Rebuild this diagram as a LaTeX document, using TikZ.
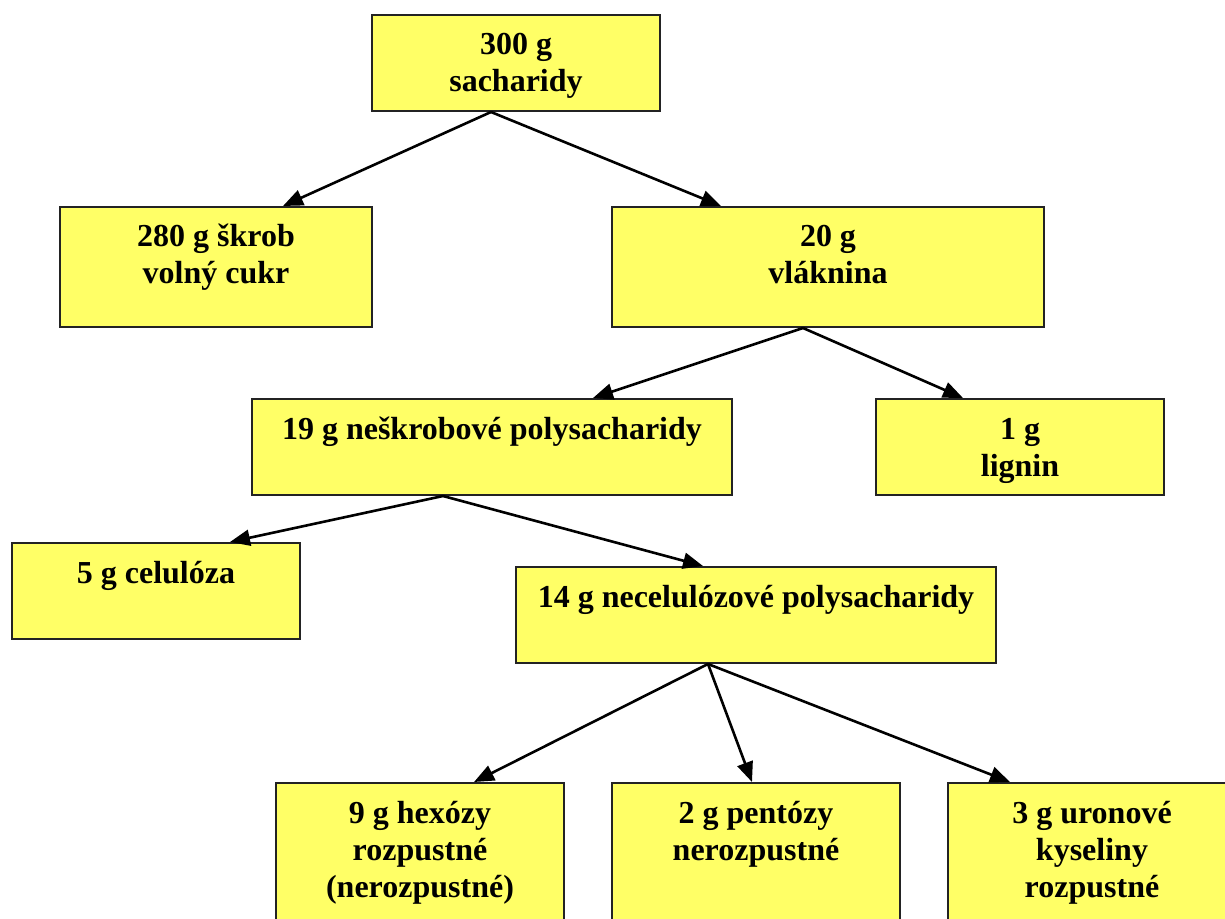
\documentclass[tikz,border=0pt]{standalone}
\usepackage{fontspec}
\setmainfont{Liberation Serif}
\usetikzlibrary{calc,arrows.meta}
\definecolor{boxyellow}{RGB}{255,255,102}
\definecolor{boxline}{RGB}{35,35,35}
\newcommand{\boxtxt}[3]{\parbox[t][#2][t]{#1}{\centering\rule{0pt}{20pt}#3}}

\begin{document}
\begin{tikzpicture}[x=0.5pt, y=-0.5pt,
    cellbox/.style={draw=boxline, line width=1pt, fill=boxyellow, inner sep=0pt,
      anchor=north west, font=\fontsize{16}{18.5}\selectfont\bfseries},
    link/.style={-{Triangle[length=10pt,width=8pt]}, line width=1.3pt}]
    \clip (0,0) rectangle (1225,919);
    \node[cellbox] (sach) at (371,14) {\boxtxt{144pt}{48pt}{300 g\\sacharidy}};
    \node[cellbox] (skrob) at (59,206) {\boxtxt{156pt}{60pt}{280 g škrob\\volný cukr}};
    \node[cellbox] (vlak) at (611,206) {\boxtxt{216pt}{60pt}{20 g\\vláknina}};
    \node[cellbox] (nsp) at (251,398) {\boxtxt{240pt}{48pt}{19 g neškrobové polysacharidy}};
    \node[cellbox] (lign) at (875,398) {\boxtxt{144pt}{48pt}{1 g\\lignin}};
    \node[cellbox] (cel) at (11,542) {\boxtxt{144pt}{48pt}{5 g celulóza}};
    \node[cellbox] (ncp) at (515,566) {\boxtxt{240pt}{48pt}{14 g necelulózové polysacharidy}};
    \node[cellbox] (hex) at (275,782) {\boxtxt{144pt}{80pt}{9 g hexózy\\rozpustné\\(nerozpustné)}};
    \node[cellbox] (pent) at (611,782) {\boxtxt{144pt}{80pt}{2 g pentózy\\nerozpustné}};
    \node[cellbox] (uron) at (947,782) {\boxtxt{144pt}{80pt}{3 g uronové\\kyseliny\\rozpustné}};

    \draw[link] ($(sach.south west)+(120,0)$) -- ($(skrob.north west)+(224,0)$);
    \draw[link] ($(sach.south west)+(120,0)$) -- ($(vlak.north west)+(110,0)$);
    \draw[link] ($(vlak.south west)+(192,0)$) -- ($(nsp.north west)+(342,0)$);
    \draw[link] ($(vlak.south west)+(192,0)$) -- ($(lign.north west)+(88,0)$);
    \draw[link] ($(nsp.south west)+(192,0)$) -- ($(cel.north west)+(219,0)$);
    \draw[link] ($(nsp.south west)+(192,0)$) -- ($(ncp.north west)+(188,0)$);
    \draw[link] ($(ncp.south west)+(193,0)$) -- ($(hex.north west)+(199,0)$);
    \draw[link] ($(ncp.south west)+(193,0)$) -- ($(pent.north west)+(141,0)$);
    \draw[link] ($(ncp.south west)+(193,0)$) -- ($(uron.north west)+(63,0)$);
  \end{tikzpicture}
\end{document}
